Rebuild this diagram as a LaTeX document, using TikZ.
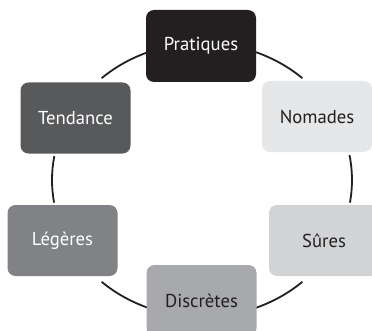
\documentclass[tikz,border=0pt]{standalone}
\usepackage{fontspec}
\setmainfont{PT Sans}
\definecolor{ink}{RGB}{35,31,32}
\definecolor{c1}{RGB}{35,31,32}
\definecolor{c2}{RGB}{230,231,232}
\definecolor{c3}{RGB}{209,211,212}
\definecolor{c4}{RGB}{167,169,172}
\definecolor{c5}{RGB}{128,130,133}
\definecolor{c6}{RGB}{88,89,91}
\begin{document}
\begin{tikzpicture}[x=1pt,y=1pt,
  box/.style={rounded corners=8pt, minimum width=110pt, minimum height=71pt, inner sep=0pt,
    font=\fontsize{18.7}{20}\selectfont},
  darkbox/.style={box, text=white},
  lightbox/.style={box, text=ink},
  conn/.style={line width=1.8pt, draw=ink}]
\clip (0,0) rectangle (372,330);
\fill[white] (0,0) rectangle (372,330);
\coordinate (c) at (202,150);
\draw[conn] (c) ++(69:150 and 137) arc[start angle=69, end angle=48, x radius=150, y radius=137];
\draw[conn] (c) ++(10.5:150 and 137) arc[start angle=10.5, end angle=-9.5, x radius=150, y radius=137];
\draw[conn] (c) ++(-48:150 and 137) arc[start angle=-48, end angle=-69, x radius=150, y radius=137];
\draw[conn] (c) ++(-111:150 and 137) arc[start angle=-111, end angle=-132, x radius=150, y radius=137];
\draw[conn] (c) ++(189.5:150 and 137) arc[start angle=189.5, end angle=170, x radius=150, y radius=137];
\draw[conn] (c) ++(132:150 and 137) arc[start angle=132, end angle=111, x radius=150, y radius=137];
\node[darkbox, fill=c1, minimum height=72pt] (pra) at (201,284) {Pratiques};
\node[lightbox, fill=c2] (nom) at (317,213.5) {Nomades};
\node[lightbox, fill=c3] (sur) at (324,89.5) {Sûres};
\node[lightbox, fill=c4] (dis) at (201.5,29.5) {Discrètes};
\node[darkbox, fill=c5] (leg) at (62.5,89.5) {Légères};
\node[darkbox, fill=c6] (ten) at (75.5,212) {Tendance};
\end{tikzpicture}
\end{document}
